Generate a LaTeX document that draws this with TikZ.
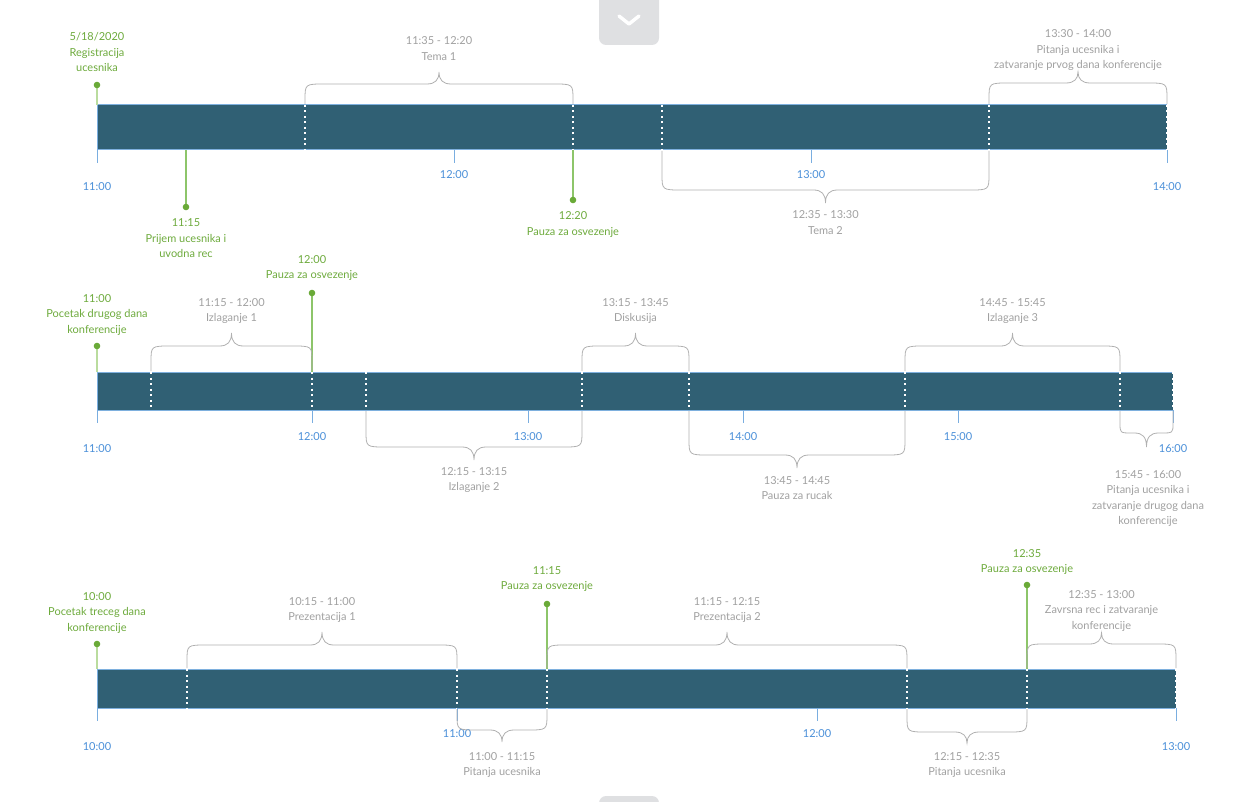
\documentclass[tikz,border=0pt]{standalone}
\usepackage{fontspec}
\setmainfont{Lato}
\definecolor{barc}{HTML}{306074}
\definecolor{edgec}{HTML}{7EB0DE}
\definecolor{tickc}{HTML}{7AAEE0}
\definecolor{bluec}{HTML}{4A8FD8}
\definecolor{greenc}{HTML}{6DAA3C}
\definecolor{dotc}{HTML}{6AAA38}
\definecolor{stemlc}{HTML}{BADC9E}
\definecolor{stemdc}{HTML}{8DC56A}
\definecolor{grayc}{HTML}{A0A0A0}
\definecolor{bracec}{HTML}{B0B0B0}
\definecolor{btnc}{HTML}{DFE0E2}
\newcommand\lbfont{\fontsize{11}{13}\selectfont}
\tikzset{
 edgeln/.style={draw=edgec, line width=1pt},
 tickln/.style={draw=tickc, line width=0.9pt},
 sepln/.style={draw=white, line width=1.3pt, dash pattern=on 2pt off 3.5pt},
 stemlt/.style={draw=stemlc, line width=1.4pt},
 stemdk/.style={draw=stemdc, line width=1.4pt},
 bracepath/.style={draw=bracec, line width=0.8pt},
 gtxt/.style={text=greenc, font=\lbfont, inner sep=0pt, anchor=base},
 ytxt/.style={text=grayc, font=\lbfont, inner sep=0pt, anchor=base},
 btxt/.style={text=bluec, font=\lbfont, inner sep=0pt, anchor=base},
}
% brace: sign, x1, x2, yend, yh, ytip, r
\newcommand\brc[7]{%
 \pgfmathsetmacro\xm{(#2+#3)/2}%
 \pgfmathsetmacro\yc{#5+(#1)*#7*0.8}%
 \pgfmathsetmacro\yk{#5-(#1)*4}%
 \draw[bracepath] (#2,#4) -- (#2,\yc) .. controls (#2,#5) .. ({#2+#7},#5) -- ({\xm-12},#5)
  .. controls ({\xm-4},#5) and (\xm,\yk) .. (\xm,#6)
  .. controls (\xm,\yk) and ({\xm+4},#5) .. ({\xm+12},#5) -- ({#3-#7},#5)
  .. controls (#3,#5) .. (#3,\yc) -- (#3,#4);}
% label: name, style, x, first baseline, lines
\newcommand\lbl[5]{%
 \foreach \t [count=\i] in {#5} {\node[#2] (#1-\i) at (#3,{#4+(\i-1)*15.5}) {\t};}}
% marker: name, stem style, x, y from, y dot
\newcommand\mrk[5]{%
 \draw[#2] (#3,#4) -- (#3,#5);
 \fill[dotc] (#3,#5) circle (3.3);
 \coordinate (#1) at (#3,#5);}
% tick: name, x, ybottom, label baseline y, text
\newcommand\tck[5]{%
 \draw[tickln] (#2,#3) -- (#2,{#3+13});
 \node[btxt] (#1) at (#2,#4) {#5};}
\begin{document}
\begin{tikzpicture}[x=1pt,y=-1pt]
\useasboundingbox (0,0) rectangle (1260,802);
% buttons
\fill[btnc, rounded corners=7pt] (599,-12) rectangle (659,45);
\draw[white, line width=3.4pt, line cap=round, line join=round] (619,16) -- (629,24) -- (639,16);
\fill[btnc, rounded corners=7pt] (599,796) rectangle (659,820);

%%%%% Timeline 1
\fill[barc] (97,105) rectangle (1167,150);
\draw[edgeln] (97,105) -- (1167,105) (97,150) -- (1167,150);
\foreach \x in {305,573,662,989,1167} \draw[sepln] (\x,105) -- (\x,150);
\draw[tickln] (97,105) -- (97,150);
\tck{t1a}{97}{150}{191}{11:00}
\tck{t1b}{454}{150}{179}{12:00}
\tck{t1c}{811}{150}{179}{13:00}
\tck{t1d}{1167}{150}{191}{14:00}
\mrk{m1a}{stemlt}{97}{105}{85}
\mrk{m1b}{stemdk}{186}{150}{207}
\mrk{m1c}{stemdk}{573}{150}{200}
\brc{1}{305}{573}{104}{84}{72}{20}
\brc{1}{989}{1167}{104}{83}{72}{20}
\brc{-1}{662}{989}{151}{190}{203}{20}
\lbl{g1a}{gtxt}{97}{41}{5/18/2020,Registracija,ucesnika}
\lbl{g1b}{gtxt}{186}{227}{11:15,Prijem ucesnika i,uvodna rec}
\lbl{g1c}{gtxt}{573}{220}{12:20,Pauza za osvezenje}
\lbl{s1a}{ytxt}{439}{45}{11:35 - 12:20,Tema 1}
\lbl{s1b}{ytxt}{1078}{38}{13:30 - 14:00,Pitanja ucesnika i,zatvaranje prvog dana konferencije}
\lbl{s1c}{ytxt}{825.5}{219}{12:35 - 13:30,Tema 2}

%%%%% Timeline 2
\fill[barc] (97,372) rectangle (1173,410);
\draw[edgeln] (97,372) -- (1173,372) (97,410) -- (1173,410);
\foreach \x in {151,312,366,582,689,905,1120,1173} \draw[sepln] (\x,372) -- (\x,410);
\draw[tickln] (97,372) -- (97,410);
\tck{t2a}{97}{410}{452}{11:00}
\tck{t2b}{312}{410}{440}{12:00}
\tck{t2c}{528}{410}{440}{13:00}
\tck{t2d}{743}{410}{440}{14:00}
\tck{t2e}{958}{410}{440}{15:00}
\tck{t2f}{1173}{410}{452}{16:00}
\mrk{m2a}{stemlt}{97}{372}{346}
\mrk{m2b}{stemdk}{312}{372}{293}
\brc{1}{151}{312}{371}{346}{333}{20}
\brc{1}{582}{689}{371}{346}{333}{20}
\brc{1}{905}{1120}{371}{346}{333}{20}
\brc{-1}{366}{582}{411}{447}{460}{20}
\brc{-1}{689}{905}{411}{455}{468}{20}
\brc{-1}{1120}{1173}{411}{433}{447}{12}
\lbl{g2a}{gtxt}{97}{302}{11:00,Pocetak drugog dana,konferencije}
\lbl{g2b}{gtxt}{312}{263}{12:00,Pauza za osvezenje}
\lbl{s2a}{ytxt}{231.5}{306}{11:15 - 12:00,Izlaganje 1}
\lbl{s2b}{ytxt}{635.5}{306}{13:15 - 13:45,Diskusija}
\lbl{s2c}{ytxt}{1012.5}{306}{14:45 - 15:45,Izlaganje 3}
\lbl{s2d}{ytxt}{474}{475}{12:15 - 13:15,Izlaganje 2}
\lbl{s2e}{ytxt}{797}{484}{13:45 - 14:45,Pauza za rucak}
\lbl{s2f}{ytxt}{1148}{478}{15:45 - 16:00,Pitanja ucesnika i,zatvaranje drugog dana,konferencije}

%%%%% Timeline 3
\fill[barc] (97,669) rectangle (1176,708);
\draw[edgeln] (97,669) -- (1176,669) (97,708) -- (1176,708);
\foreach \x in {187,457,547,907,1027,1176} \draw[sepln] (\x,669) -- (\x,708);
\draw[tickln] (97,669) -- (97,708);
\tck{t3a}{97}{708}{750}{10:00}
\tck{t3b}{457}{708}{737}{11:00}
\tck{t3c}{817}{708}{737}{12:00}
\tck{t3d}{1176}{708}{750}{13:00}
\mrk{m3a}{stemlt}{97}{669}{644}
\mrk{m3b}{stemdk}{547}{669}{604}
\mrk{m3c}{stemdk}{1027}{669}{585}
\brc{1}{187}{457}{668}{645}{632}{20}
\brc{1}{547}{907}{668}{645}{632}{20}
\brc{1}{1027}{1176}{668}{644}{633}{20}
\brc{-1}{457}{547}{709}{730}{742}{20}
\brc{-1}{907}{1027}{709}{732}{743}{20}
\lbl{g3a}{gtxt}{97}{600}{10:00,Pocetak treceg dana,konferencije}
\lbl{g3b}{gtxt}{547}{574}{11:15,Pauza za osvezenje}
\lbl{g3c}{gtxt}{1027}{557}{12:35,Pauza za osvezenje}
\lbl{s3a}{ytxt}{322}{605}{10:15 - 11:00,Prezentacija 1}
\lbl{s3b}{ytxt}{727}{605}{11:15 - 12:15,Prezentacija 2}
\lbl{s3c}{ytxt}{1101.5}{598}{12:35 - 13:00,Zavrsna rec i zatvaranje,konferencije}
\lbl{s3d}{ytxt}{502}{760}{11:00 - 11:15,Pitanja ucesnika}
\lbl{s3e}{ytxt}{967}{760}{12:15 - 12:35,Pitanja ucesnika}
\end{tikzpicture}
\end{document}
